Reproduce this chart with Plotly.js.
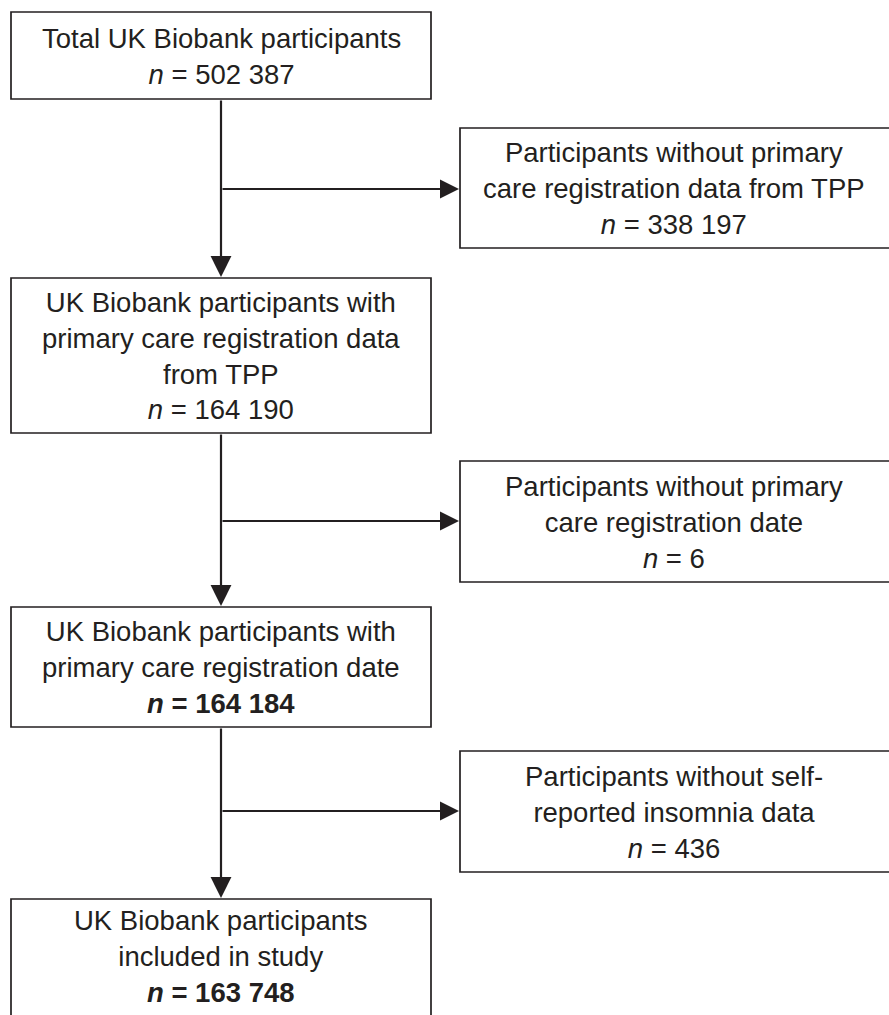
<!DOCTYPE html>
<html>
<head>
<meta charset="utf-8">
<script src="https://cdn.plot.ly/plotly-3.0.1.min.js"></script>
<style>html,body{margin:0;padding:0;background:#fff;}#chart{width:889px;height:1015px;}</style>
</head>
<body>
<div id="chart"></div>
<script>
// ---- Data ----
const mainLabels = [
  "Total UK Biobank participants",
  "UK Biobank participants with<br>primary care registration data<br>from TPP",
  "UK Biobank participants with<br>primary care registration date",
  "UK Biobank participants<br>included in study"
];
const mainCounts = ["502 387", "164 190", "164 184", "163 748"];
const mainBold = [false, false, true, true];

const excludedLabels = [
  "Participants without primary<br>care registration data from TPP",
  "Participants without primary<br>care registration date",
  "Participants without self-<br>reported insomnia data"
];
const excludedCounts = ["338 197", "6", "436"];

// ---- Layout geometry (pixels in an 889 x 1015 canvas) ----
const W = 889, H = 1015;
const mainX = [11, 431];
const mainY = [[12, 99], [278, 433], [607, 727], [899, 1040]];
const mainTextY = [56, 356, 667.5, 956];
const exclX = [460, 892];
const exclY = [[128, 248], [461, 582], [751, 872]];
const exclTextY = [188.5, 522, 812];
const branchY = [189, 521, 811];
const trunkX = 221;

const ink = "#231f20";
const fontFam = "'Liberation Sans', Arial, Helvetica, sans-serif";

function countText(c, bold) {
  const t = "<i>n</i> = " + c;
  return bold ? "<b>" + t + "</b>" : t;
}

const shapes = [];
const annotations = [];

mainLabels.forEach((lab, i) => {
  shapes.push({type: "rect", xref: "x", yref: "y",
    x0: mainX[0], x1: mainX[1], y0: mainY[i][0], y1: mainY[i][1],
    line: {color: ink, width: 1.7}, fillcolor: "rgba(0,0,0,0)"});
  annotations.push({xref: "x", yref: "y", x: (mainX[0] + mainX[1]) / 2, y: mainTextY[i],
    text: lab + "<br>" + countText(mainCounts[i], mainBold[i]),
    showarrow: false, align: "center", xanchor: "center", yanchor: "middle",
    font: {family: fontFam, size: 27.5, color: ink}});
});

excludedLabels.forEach((lab, i) => {
  shapes.push({type: "rect", xref: "x", yref: "y",
    x0: exclX[0], x1: exclX[1], y0: exclY[i][0], y1: exclY[i][1],
    line: {color: ink, width: 1.7}, fillcolor: "rgba(0,0,0,0)"});
  annotations.push({xref: "x", yref: "y", x: 674, y: exclTextY[i],
    text: lab + "<br>" + countText(excludedCounts[i], false),
    showarrow: false, align: "center", xanchor: "center", yanchor: "middle",
    font: {family: fontFam, size: 27.5, color: ink}});
  // branch arrow
  annotations.push({xref: "x", yref: "y", axref: "x", ayref: "y",
    x: exclX[0] - 1, y: branchY[i], ax: trunkX, ay: branchY[i],
    text: "", showarrow: true, arrowhead: 2, arrowsize: 1.9, arrowwidth: 2,
    arrowcolor: ink, standoff: 0, startstandoff: 0});
});

// trunk arrows between main boxes
for (let i = 0; i < mainY.length - 1; i++) {
  annotations.push({xref: "x", yref: "y", axref: "x", ayref: "y",
    x: trunkX, y: mainY[i + 1][0] - 1, ax: trunkX, ay: mainY[i][1],
    text: "", showarrow: true, arrowhead: 2, arrowsize: 1.9, arrowwidth: 2.2,
    arrowcolor: ink, standoff: 0, startstandoff: 0});
}

const layout = {
  width: W, height: H,
  margin: {l: 0, r: 0, t: 0, b: 0},
  paper_bgcolor: "#ffffff", plot_bgcolor: "#ffffff",
  xaxis: {range: [0, W], visible: false, fixedrange: true},
  yaxis: {range: [H, 0], visible: false, fixedrange: true},
  showlegend: false,
  shapes: shapes,
  annotations: annotations
};

Plotly.newPlot("chart", [{x: [], y: [], type: "scatter", mode: "markers", hoverinfo: "skip"}], layout, {displayModeBar: false, staticPlot: true});
</script>
</body>
</html>
